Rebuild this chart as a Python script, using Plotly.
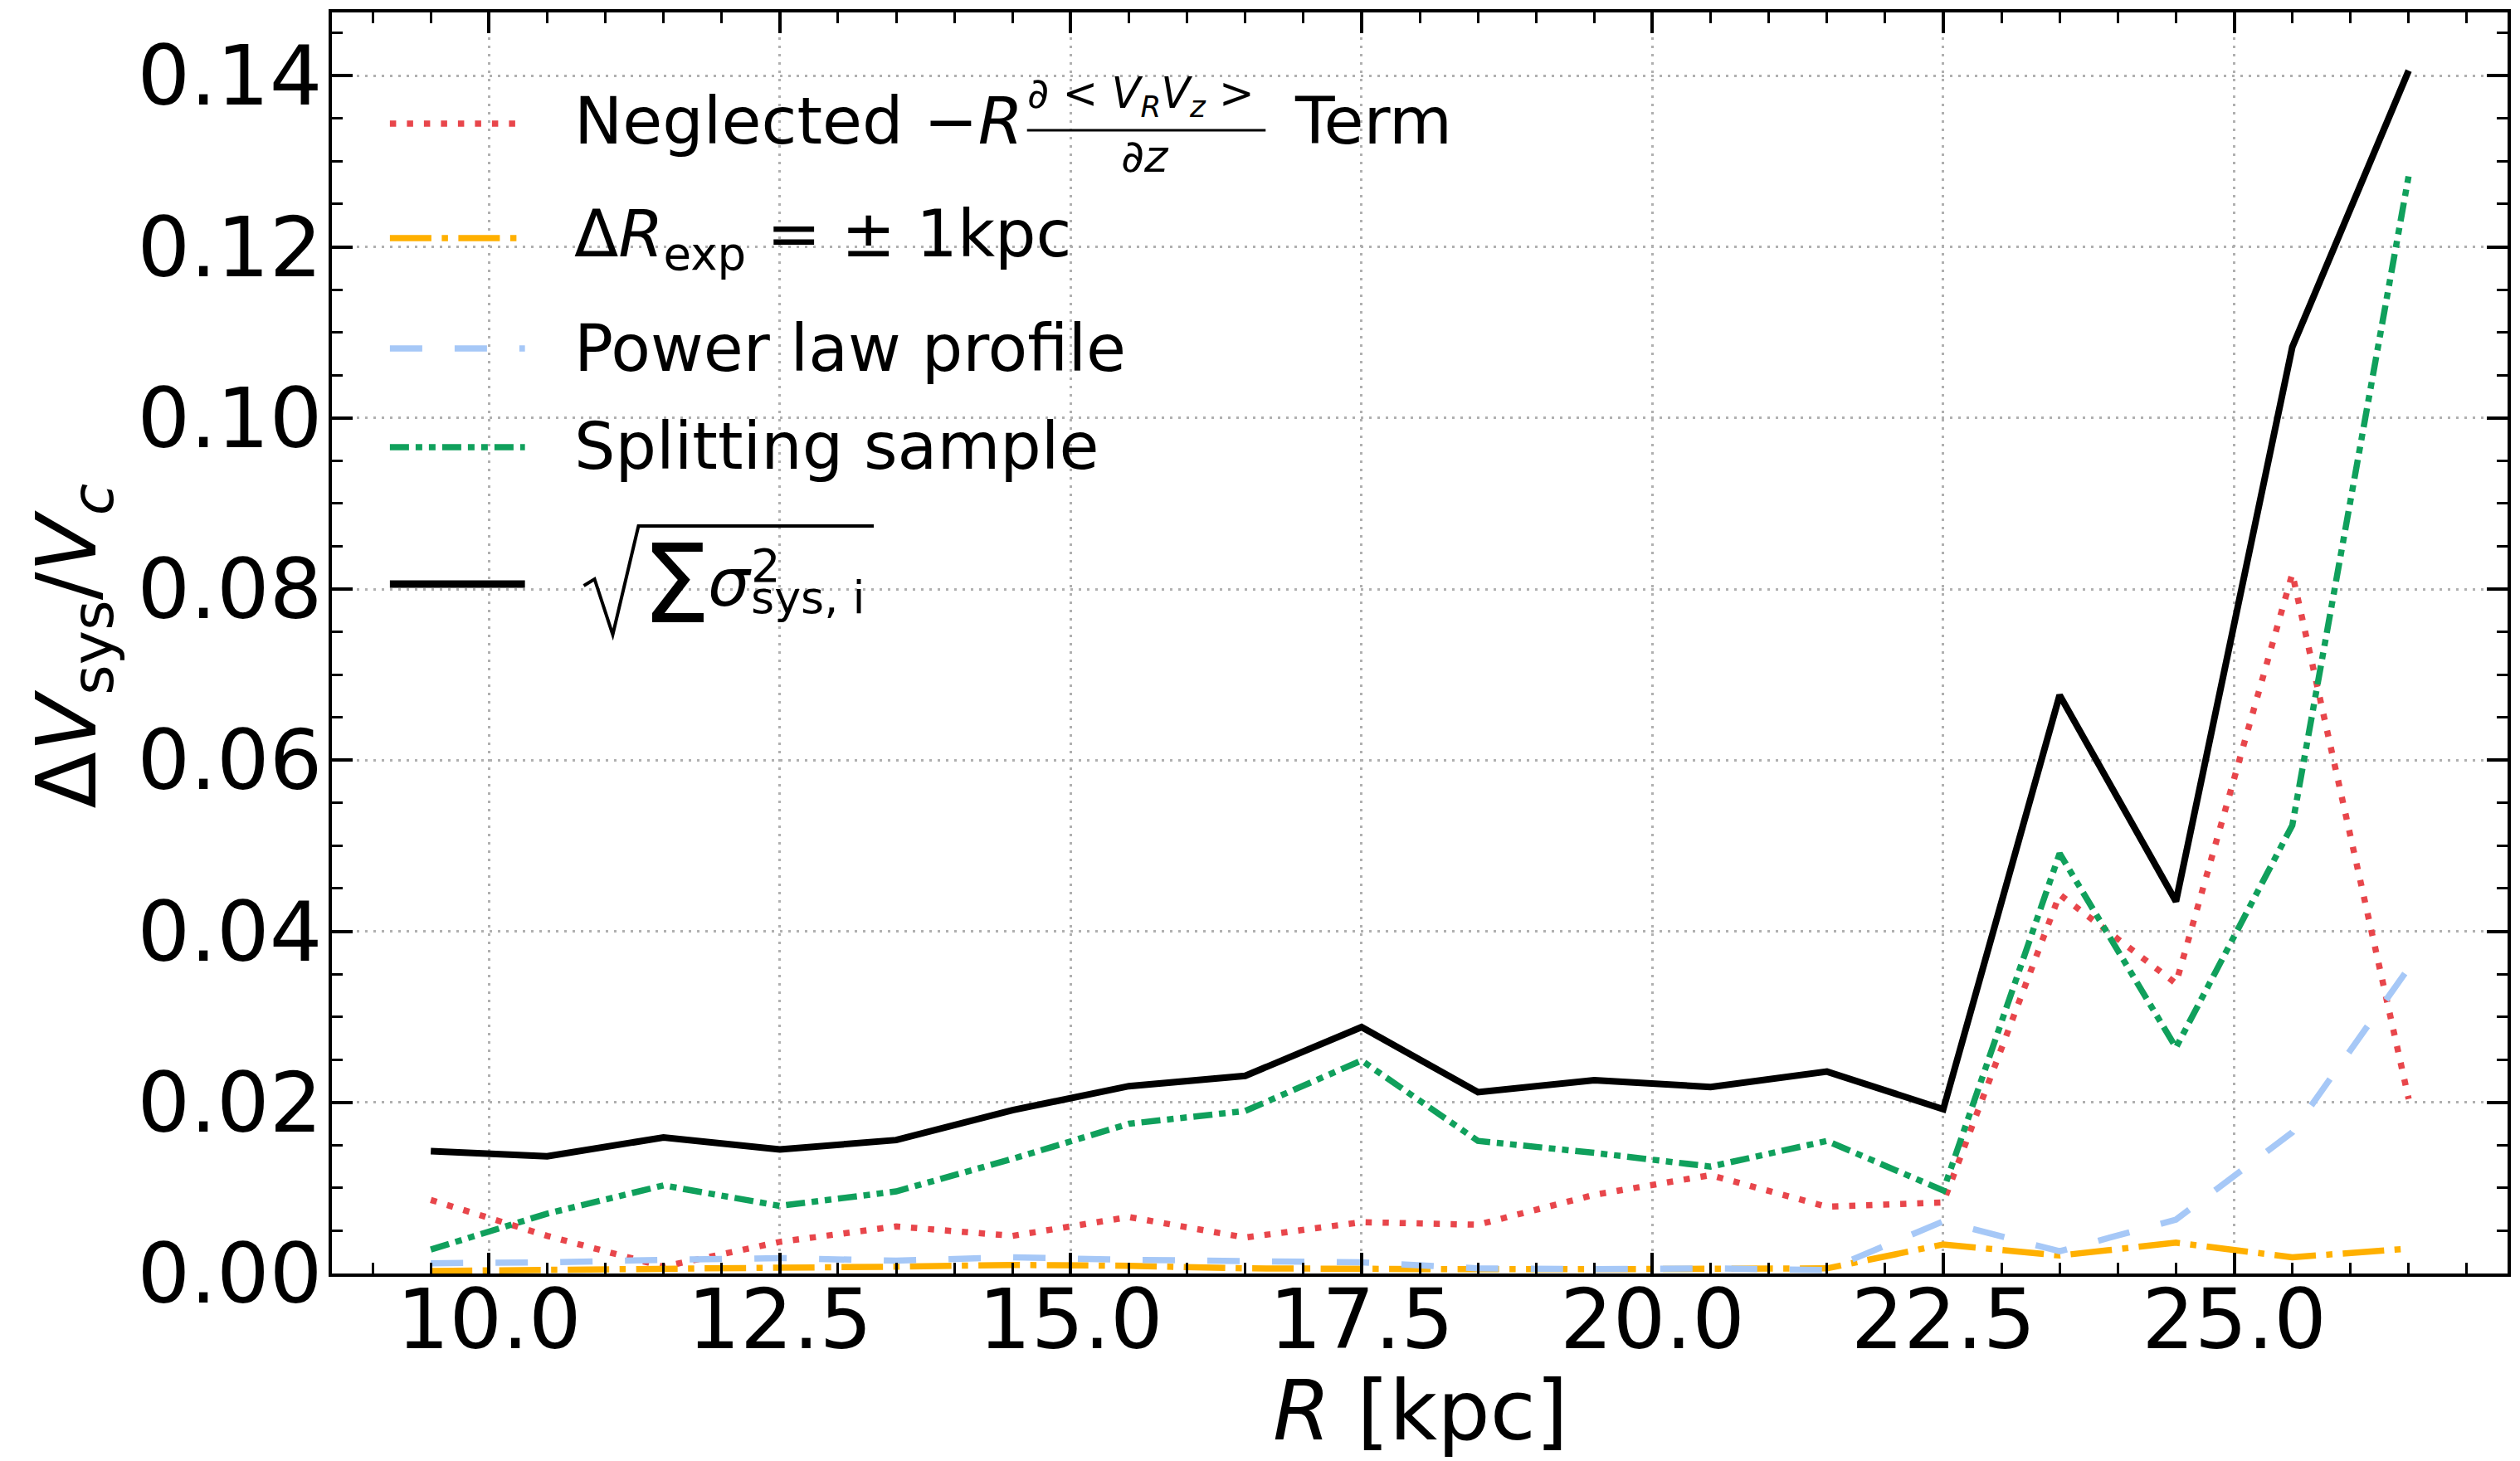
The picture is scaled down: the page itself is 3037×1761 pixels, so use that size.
import plotly.graph_objects as go

# Galactocentric radius bins [kpc]
R = [9.5, 10.5, 11.5, 12.5, 13.5, 14.5, 15.5, 16.5, 17.5,
     18.5, 19.5, 20.5, 21.5, 22.5, 23.5, 24.5, 25.5, 26.5]

# Fractional systematic uncertainty contributions
neglected_term = [0.0086, 0.0044, 0.0008, 0.0037, 0.0055, 0.0044, 0.0066, 0.0042, 0.0060,
                  0.0057, 0.0092, 0.0115, 0.0078, 0.0083, 0.0443, 0.0339, 0.0818, 0.0204]
delta_rexp = [0.0003, 0.0004, 0.0005, 0.0006, 0.0008, 0.0010, 0.0009, 0.0006, 0.0005,
              0.0005, 0.0005, 0.0005, 0.0006, 0.0034, 0.0021, 0.0036, 0.0019, 0.0029]
power_law = [0.0012, 0.0013, 0.0016, 0.0018, 0.0015, 0.0019, 0.0016, 0.0014, 0.0013,
             0.0006, 0.0005, 0.0006, 0.0004, 0.0061, 0.0026, 0.0063, 0.0165, 0.0357]
splitting = [0.0028, 0.0070, 0.0103, 0.0079, 0.0096, 0.0134, 0.0175, 0.0190, 0.0249,
             0.0155, 0.0141, 0.0125, 0.0155, 0.0097, 0.0491, 0.0264, 0.0524, 0.1283]
total = [0.0143, 0.0137, 0.0159, 0.0145, 0.0156, 0.0191, 0.0219, 0.0231, 0.0288,
         0.0212, 0.0226, 0.0218, 0.0236, 0.0192, 0.0676, 0.0435, 0.1083, 0.1406]

x_ticks = [10.0, 12.5, 15.0, 17.5, 20.0, 22.5, 25.0]
y_ticks = [0.00, 0.02, 0.04, 0.06, 0.08, 0.10, 0.12, 0.14]

FONT = "DejaVu Sans"
W, H = 3037, 1761
PL, PR, PT, PB = 400, 3026, 15, 1535

RED, ORANGE, BLUE, GREEN = "#E8464B", "#FFB000", "#A6C8F7", "#10A05C"
LW = 7.5
LEG = 78

series = [
    (neglected_term, RED, "7.5px,13px", LW),
    (delta_rexp, ORANGE, "50px,12.5px,7.5px,12.5px", LW),
    (power_law, BLUE, "39px,39px", LW),
    (splitting, GREEN, "23px,8px,8px,8px,8px,8px", LW),
    (total, "black", "solid", 8),
]


def px(x):
    return (x - PL) / (PR - PL)


def py(y):
    return (PB - y) / (PB - PT)


fig = go.Figure()
for vals, col, dash, w in series:
    fig.add_trace(go.Scatter(x=R, y=vals, mode="lines",
                             line=dict(color=col, width=w, dash=dash),
                             showlegend=False))

shapes = []
annotations = []

# legend handles
handle_rows = [149, 287, 420, 539, 704]
for (vals, col, dash, w), yy in zip(series, handle_rows):
    shapes.append(dict(type="line", xref="paper", yref="paper",
                       x0=px(470), x1=px(633), y0=py(yy), y1=py(yy),
                       line=dict(color=col, width=w + (1 if col == "black" else 0), dash=dash)))


def text(t, x, y, size, xanchor="left", yanchor="middle", angle=0):
    annotations.append(dict(text=t, x=px(x), y=py(y), xref="paper", yref="paper",
                            xanchor=xanchor, yanchor=yanchor, showarrow=False,
                            textangle=angle, font=dict(family=FONT, size=size, color="black")))


# row 1: neglected term with fraction
text("Neglected −<i>R</i>", 690, 146, LEG)
text("∂ < <i>V</i><sub><i>R</i></sub><i>V</i><sub><i>z</i></sub> >", 1376, 116, 51, xanchor="center")
shapes.append(dict(type="line", xref="paper", yref="paper",
                   x0=px(1239), x1=px(1527), y0=py(157), y1=py(157),
                   line=dict(color="black", width=3)))
text("∂<i>z</i>", 1381, 188, 54, xanchor="center")
text("Term", 1560, 146, LEG)

# row 2
text("Δ<i>R</i><sub>exp</sub> = ± 1kpc", 690, 287, LEG)
# rows 3, 4
text("Power law profile", 690, 420, LEG)
text("Splitting sample", 690, 538, LEG)

# row 5: square root of summed variances
rad = [(704, 706), (717, 698), (739, 765), (770, 634), (1054, 634)]
path = "M " + " L ".join(f"{px(a):.5f},{py(b):.5f}" for a, b in rad)
shapes.append(dict(type="path", xref="paper", yref="paper", path=path,
                   line=dict(color="black", width=4)))
text("Σ", 815, 704, 132, xanchor="center")
text("<i>σ</i>", 852, 702, 80)
text("2", 904, 681, 56)
text("sys, i", 904, 721, 54)

# axis titles
text("Δ<i>V</i><sub>sys</sub>/<i>V</i><sub><i>c</i></sub>", 88, 778, 100,
     xanchor="center", yanchor="middle", angle=-90)
text("<i>R</i> [kpc]", 1714, 1700, 100, xanchor="center", yanchor="middle")

axis_common = dict(showline=True, linecolor="black", linewidth=3.5, mirror="allticks",
                   ticks="inside", ticklen=25, tickwidth=3.5, tickcolor="black",
                   showgrid=True, gridcolor="#b0b0b0", gridwidth=2.5, griddash="3px,7px",
                   zeroline=False,
                   tickfont=dict(family=FONT, size=100, color="black"))

fig.update_xaxes(range=[8.65, 27.35], tickvals=x_ticks,
                 ticktext=[f"{v:.1f}" for v in x_ticks],
                 ticklabelstandoff=-34,
                 minor=dict(dtick=0.5, tick0=0, ticks="inside", ticklen=13, tickwidth=2.5,
                            tickcolor="black", showgrid=False),
                 **axis_common)
fig.update_yaxes(range=[0, 0.1474], tickvals=y_ticks,
                 ticktext=[f"{v:.2f}" for v in y_ticks],
                 ticklabelstandoff=-12,
                 minor=dict(dtick=0.005, tick0=0, ticks="inside", ticklen=13, tickwidth=2.5,
                            tickcolor="black", showgrid=False),
                 **axis_common)

fig.update_layout(width=W, height=H, autosize=False,
                  margin=dict(l=PL, r=W - PR, t=PT, b=H - PB, pad=0),
                  plot_bgcolor="white", paper_bgcolor="white",
                  showlegend=False, shapes=shapes, annotations=annotations,
                  font=dict(family=FONT, color="black"))

fig.write_html("out.html")
